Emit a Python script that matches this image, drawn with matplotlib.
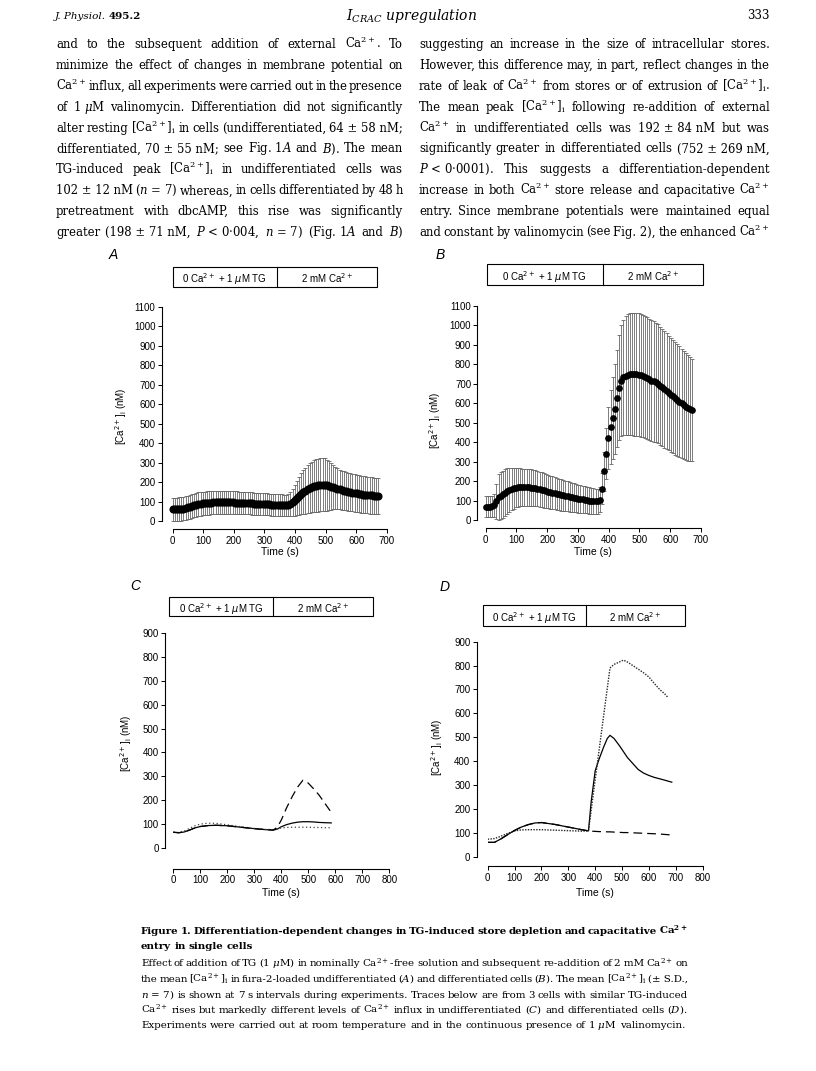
import numpy as np
import matplotlib
matplotlib.use('Agg')
import matplotlib.pyplot as plt
from matplotlib.patches import Rectangle
from matplotlib.lines import Line2D

# ---- data ----
interval = 7  # mean shown at 7 s intervals
a_mean = [60, 60, 60, 61, 62, 64, 67, 70, 73, 77,
          80, 83, 86, 88, 90, 91, 92, 93, 94, 95,
          95, 96, 96, 96, 96, 96, 95, 95, 95, 94,
          94, 93, 93, 92, 92, 91, 91, 90, 89, 89,
          88, 88, 87, 86, 86, 85, 84, 84, 83, 82,
          82, 81, 80, 80, 81, 86, 96, 107, 118, 129,
          139, 148, 156, 163, 169, 174, 178, 182, 184, 186,
          186, 185, 183, 180, 177, 173, 169, 165, 162, 159,
          156, 153, 150, 148, 146, 144, 142, 140, 138, 136,
          135, 133, 132, 131, 130, 129, 128]
a_sd = [60, 60, 60, 60, 60, 60, 60, 60, 61, 61,
        61, 61, 61, 60, 60, 60, 60, 60, 60, 59,
        59, 59, 59, 59, 59, 59, 59, 58, 58, 58,
        58, 58, 58, 57, 57, 57, 57, 57, 57, 56,
        56, 56, 56, 56, 56, 56, 56, 56, 56, 56,
        56, 56, 56, 56, 56, 62, 70, 79, 88, 97,
        105, 112, 118, 123, 127, 130, 133, 135, 136, 137,
        137, 136, 132, 126, 119, 113, 108, 105, 102, 100,
        99, 98, 97, 97, 96, 96, 95, 95, 95, 94,
        94, 94, 94, 93, 93, 93, 93]
b_mean = [68, 68, 68, 70, 75, 95, 118, 125, 132, 140,
          148, 155, 160, 163, 166, 167, 168, 168, 168, 167,
          167, 166, 165, 163, 161, 158, 155, 152, 149, 146,
          143, 140, 137, 134, 131, 128, 126, 123, 121, 118,
          116, 114, 112, 110, 108, 106, 104, 102, 100, 98,
          97, 96, 95, 105, 160, 250, 340, 420, 475, 525,
          570, 625, 680, 715, 732, 740, 745, 748, 749, 749,
          748, 746, 743, 739, 734, 728, 722, 716, 711, 706,
          699, 690, 681, 671, 661, 652, 643, 634, 625, 616,
          607, 598, 590, 582, 575, 569, 563]
b_sd = [55, 55, 55, 55, 58, 90, 118, 122, 122, 120,
        117, 113, 108, 104, 100, 98, 97, 96, 95, 95,
        94, 94, 93, 92, 91, 90, 89, 88, 87, 86,
        85, 84, 83, 82, 81, 80, 79, 78, 77, 76,
        75, 74, 73, 72, 71, 70, 69, 68, 67, 66,
        65, 64, 63, 66, 80, 100, 130, 160, 190, 210,
        230, 250, 270, 285, 295, 305, 310, 313, 315, 316,
        316, 316, 315, 314, 313, 312, 311, 310, 309, 307,
        305, 303, 301, 299, 297, 295, 293, 291, 289, 287,
        284, 281, 278, 274, 270, 266, 262]
t_ab = [interval * i for i in range(len(a_mean))]

c_time = [0, 20, 40, 60, 80, 100, 130, 160, 200, 250, 300, 340,
          370, 385, 400, 420, 440, 460, 480, 500, 520, 540, 560, 585]
c_solid = [67, 65, 68, 76, 85, 91, 95, 96, 94, 88, 82, 78,
           76, 80, 90, 99, 105, 109, 111, 111, 110, 108, 107, 106]
c_dotted = [67, 66, 72, 83, 94, 101, 105, 104, 98, 90, 83, 79,
            78, 81, 85, 87, 88, 88, 88, 88, 87, 87, 86, 86]
c_dashed = [67, 65, 68, 76, 85, 91, 95, 96, 94, 88, 82, 78,
            76, 88, 118, 170, 215, 255, 284, 272, 248, 222, 190, 150]

d_time = [0, 25, 50, 75, 100, 125, 150, 175, 200, 250, 300, 350, 375,
          385, 400, 415, 430, 445, 455, 470, 490, 505, 520, 540, 560,
          580, 600, 620, 640, 660, 672, 685]
d_solid = [60, 60, 75, 93, 110, 124, 134, 141, 143, 135, 124, 113, 108,
           230, 360, 410, 455, 495, 508, 495, 465, 440, 415, 390, 365,
           350, 340, 332, 326, 320, 316, 312]
d_dashed = [60, 60, 75, 93, 110, 124, 134, 141, 143, 135, 124, 113, 108,
            107, 106, 105, 105, 104, 104, 103, 102, 101, 101, 100, 99,
            98, 97, 96, 95, 93, 92, 91]
d_dot_time = [0, 25, 50, 75, 100, 125, 150, 200, 250, 300, 350, 375,
              390, 405, 420, 440, 455, 470, 490, 505, 520, 540, 560, 580,
              600, 620, 640, 660, 672]
d_dotted = [73, 76, 86, 98, 108, 112, 113, 113, 111, 109, 107, 108,
            237, 365, 493, 663, 790, 805, 815, 823, 815, 800, 785, 770,
            752, 725, 700, 680, 665]

cond_labels = ['0 Ca$^{2+}$ + 1 $\\mu$M TG', '2 mM Ca$^{2+}$']
ylab = '[Ca$^{2+}$]$_{\\mathrm{i}}$ (nM)'

left_col = [
    'and to the subsequent addition of external Ca$^{2+}$. To',
    'minimize the effect of changes in membrane potential on',
    'Ca$^{2+}$ influx, all experiments were carried out in the presence',
    'of 1\u00a0$\\mu$M valinomycin. Differentiation did not significantly',
    'alter resting [Ca$^{2+}$]$_{\\mathrm{i}}$ in cells (undifferentiated, 64\u00a0±\u00a058\u00a0nM;',
    'differentiated, 70\u00a0±\u00a055\u00a0nM; see Fig.\u00a01$A$ and $B$). The mean',
    'TG-induced peak [Ca$^{2+}$]$_{\\mathrm{i}}$ in undifferentiated cells was',
    '102\u00a0±\u00a012\u00a0nM ($n$\u00a0=\u00a07) whereas, in cells differentiated by 48 h',
    'pretreatment with dbcAMP, this rise was significantly',
    'greater (198\u00a0±\u00a071\u00a0nM, $P$\u00a0<\u00a00·004, $n$\u00a0=\u00a07) (Fig.\u00a01$A$ and $B$)',
]
right_col = [
    'suggesting an increase in the size of intracellular stores.',
    'However, this difference may, in part, reflect changes in the',
    'rate of leak of Ca$^{2+}$ from stores or of extrusion of [Ca$^{2+}$]$_{\\mathrm{i}}$.',
    'The mean peak [Ca$^{2+}$]$_{\\mathrm{i}}$ following re-addition of external',
    'Ca$^{2+}$ in undifferentiated cells was 192\u00a0±\u00a084\u00a0nM but was',
    'significantly greater in differentiated cells (752\u00a0±\u00a0269\u00a0nM,',
    '$P$\u00a0<\u00a00·0001). This suggests a differentiation-dependent',
    'increase in both Ca$^{2+}$ store release and capacitative Ca$^{2+}$',
    'entry. Since membrane potentials were maintained equal',
    'and constant by valinomycin (see Fig.\u00a02), the enhanced Ca$^{2+}$',
]
caption_title = [
    'Figure 1. Differentiation-dependent changes in TG-induced store depletion and capacitative Ca$^{\\mathbf{2+}}$',
    'entry in single cells',
]
caption_body = [
    'Effect of addition of TG (1\u00a0$\\mu$M) in nominally Ca$^{2+}$-free solution and subsequent re-addition of 2\u00a0mM Ca$^{2+}$ on',
    'the mean [Ca$^{2+}$]$_{\\mathrm{i}}$ in fura-2-loaded undifferentiated ($A$) and differentiated cells ($B$). The mean [Ca$^{2+}$]$_{\\mathrm{i}}$ (±\u00a0S.D.,',
    '$n$\u00a0=\u00a07) is shown at 7 s intervals during experiments. Traces below are from 3 cells with similar TG-induced',
    'Ca$^{2+}$ rises but markedly different levels of Ca$^{2+}$ influx in undifferentiated ($C$) and differentiated cells ($D$).',
    'Experiments were carried out at room temperature and in the continuous presence of 1\u00a0$\\mu$M valinomycin.',
]

# ---- page setup ----
W, H = 816, 1071
plt.rcParams['font.family'] = 'Liberation Sans'
plt.rcParams['mathtext.fontset'] = 'dejavuserif'
fig = plt.figure(figsize=(W / 100, H / 100), dpi=100)
fig.patch.set_facecolor('white')
renderer = fig.canvas.get_renderer()
SERIF = 'DejaVu Serif'


def fx(x):
    return x / W


def fy(y):
    return 1 - y / H


def word_widths(line, fs, **kw):
    ts = [fig.text(0, 0, w, fontsize=fs, family=SERIF, va='baseline', **kw)
          for w in line.split(' ')]
    return ts, [t.get_window_extent(renderer).width for t in ts]


def fit_size(lines, width, fs, min_space=0.16, **kw):
    # largest size at which every line fits with at least min_space em between words
    space = fs * 100 / 72 * min_space
    need = 0
    for ln in lines:
        ts, ws = word_widths(ln, fs, **kw)
        need = max(need, sum(ws) + space * (len(ws) - 1))
        for t in ts:
            t.remove()
    return fs * min(1.0, width / need)


def paragraph(lines, x0, x1, base0, dy, fs, justify_last=True, **kw):
    space = fs * 100 / 72 * 0.3
    for i, ln in enumerate(lines):
        ts, ws = word_widths(ln, fs, **kw)
        if len(ws) > 1 and (justify_last or i < len(lines) - 1):
            gap = (x1 - x0 - sum(ws)) / (len(ws) - 1)
        else:
            gap = space
        x = x0
        for t, w in zip(ts, ws):
            t.set_position((fx(x), fy(base0 + i * dy)))
            x += w + gap


# header
jp = fig.text(fx(55), fy(19), 'J. Physiol.', family=SERIF, style='italic', fontsize=7.5, va='baseline')
jw = jp.get_window_extent(renderer).width
fig.text(fx(55 + jw + 3), fy(19), '495.2', family=SERIF, weight='bold', fontsize=7.5, va='baseline')
fig.text(fx(412), fy(20), '$I_{CRAC}$ upregulation', family=SERIF, style='italic',
         fontsize=10, ha='center', va='baseline')
fig.text(fx(770), fy(19), '333', family=SERIF, fontsize=8.5, ha='right', va='baseline')

# body columns
fs_body = min(fit_size(left_col, 347, 10), fit_size(right_col, 351, 10))
paragraph(left_col, 56, 403, 48, 20.9, fs_body)
paragraph(right_col, 419, 770, 48, 20.9, fs_body)

# caption
fs_cap = fit_size(caption_body[:4], 547, 9)
fs_title = fit_size(caption_title[:1], 547, 9, weight='bold')
paragraph(caption_title, 141, 688, 933.5, 15.5, fs_title, justify_last=False, weight='bold')
paragraph(caption_body, 141, 688, 966.5, 15.5, fs_cap, justify_last=False)


# ---- panels ----
def cond_box(x0, xd, x1, ytop, ybot):
    fig.add_artist(Rectangle((fx(x0), fy(ybot)), (x1 - x0) / W, (ybot - ytop) / H,
                             transform=fig.transFigure, fill=False, lw=0.8, ec='k'))
    fig.add_artist(Line2D([fx(xd), fx(xd)], [fy(ytop), fy(ybot)],
                          transform=fig.transFigure, lw=0.8, color='k'))
    ym = fy((ytop + ybot) / 2 + 0.5)
    fig.text(fx((x0 + xd) / 2), ym, cond_labels[0], ha='center', va='center_baseline',
             fontsize=7, math_fontfamily='dejavusans')
    fig.text(fx((xd + x1) / 2), ym, cond_labels[1], ha='center', va='center_baseline',
             fontsize=7, math_fontfamily='dejavusans')


def panel(x0, x1, y0, y1, xmax, ymax, loff, boff, letter, lpos, ylpos, tlpos):
    ax = fig.add_axes([fx(x0), fy(y0), (x1 - x0) / W, (y0 - y1) / H])
    ax.patch.set_visible(False)
    ax.set_xlim(0, xmax)
    ax.set_ylim(0, ymax)
    ax.spines['top'].set_visible(False)
    ax.spines['right'].set_visible(False)
    ax.spines['left'].set_position(('outward', loff))
    ax.spines['bottom'].set_position(('outward', boff))
    ax.spines['left'].set_bounds(0, ymax)
    ax.spines['bottom'].set_bounds(0, xmax)
    for s in ['left', 'bottom']:
        ax.spines[s].set_linewidth(0.8)
    ax.set_xticks(np.arange(0, xmax + 1, 100))
    ax.set_yticks(np.arange(0, ymax + 1, 100))
    ax.tick_params(length=3, width=0.7, labelsize=7, pad=1.5)
    fig.text(fx(lpos[0]), fy(lpos[1]), letter, style='italic', fontsize=10,
             ha='center', va='center')
    fig.text(fx(ylpos[0]), fy(ylpos[1]), ylab, rotation=90, fontsize=7,
             ha='center', va='center', math_fontfamily='dejavusans')
    fig.text(fx((x0 + x1) / 2), fy(tlpos), 'Time (s)', fontsize=7.5,
             ha='center', va='center')
    return ax


ebkw = dict(fmt='o', color='k', mec='k', ecolor='0.4', elinewidth=0.6,
            capsize=1.3, capthick=0.6, clip_on=False)

axA = panel(172.7, 386.7, 521, 306.7, 700, 1100, 8, 6, 'A', (113, 255), (121, 416), 552)
axA.errorbar(t_ab, a_mean, yerr=a_sd, ms=4.8, **ebkw)
cond_box(172.7, 276.7, 376.7, 267.3, 286.7)

axB = panel(485.7, 701, 520, 305.7, 700, 1100, 6, 6, 'B', (440, 255), (435, 420), 552)
axB.errorbar(t_ab, b_mean, yerr=b_sd, ms=3.8, **ebkw)
cond_box(486.7, 602.7, 703.3, 264, 285)

axC = panel(173.3, 389.3, 848.3, 632.7, 800, 900, 6, 15, 'C', (135, 586), (126, 743), 893)
axC.plot(c_time, c_solid, color='k', lw=0.9)
axC.plot(c_time, c_dotted, color='0.25', lw=0.9, ls=(0, (1, 2)))
axC.plot(c_time, c_dashed, color='k', lw=0.9, ls=(0, (7, 4)))
cond_box(169.3, 272.7, 372.7, 597.3, 615.7)

axD = panel(487.7, 702.7, 856.7, 641.7, 800, 900, 8, 7, 'D', (445, 587), (437, 747), 893)
axD.plot(d_time, d_solid, color='k', lw=0.9)
axD.plot(d_dot_time, d_dotted, color='0.15', lw=1.0, ls=(0, (1, 1)))
axD.plot(d_time, d_dashed, color='k', lw=0.9, ls=(0, (7, 4)))
cond_box(483.3, 586, 685, 605, 626)

fig.savefig('out.png', dpi=100)
